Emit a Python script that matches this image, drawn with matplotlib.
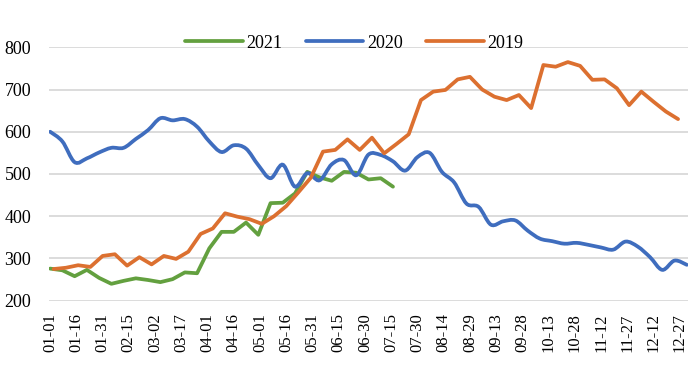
import numpy as np
import pandas as pd
import matplotlib
matplotlib.use("Agg")
import matplotlib.pyplot as plt
from matplotlib.path import Path
from matplotlib.patches import PathPatch
from matplotlib.lines import Line2D

# weekly readings, one list per year
start_2021 = "2021-01-01"
vals_2021 = [276, 272, 258, 273, 254, 240, 247, 253, 249, 244, 251, 267, 265,
             324, 363, 363, 385, 356, 431, 432, 454, 505, 492, 484, 505, 503,
             487, 490, 470]

start_2020 = "2020-01-01"
vals_2020 = [600, 577, 528, 537, 551, 562, 562, 583, 604, 632, 627, 630, 612,
             577, 552, 568, 560, 521, 490, 522, 470, 502, 485, 523, 533, 497,
             546, 545, 530, 508, 540, 550, 505, 480, 430, 422, 380, 388, 390,
             366, 347, 341, 335, 337, 332, 326, 321, 340, 328, 303, 273, 295,
             285]

start_2019 = "2019-01-03"
vals_2019 = [275, 278, 284, 280, 306, 310, 283, 303, 286, 306, 299, 316, 358,
             371, 407, 399, 393, 382, 400, 424, 457, 491, 553, 557, 582, 557,
             586, 549, 571, 594, 675, 695, 699, 724, 730, 700, 683, 675, 687,
             656, 758, 754, 765, 756, 723, 724, 703, 663, 695, 671, 648, 630]

tick_labels = pd.date_range("2019-01-01", periods=25, freq="15D").strftime("%m-%d")

c2021 = "#63A03F"
c2020 = "#3F6DBE"
c2019 = "#DC7030"


def day_of_year(start, n):
    d = pd.date_range(start, periods=n, freq="7D")
    return np.array((d - pd.Timestamp(d[0].year, 1, 1)).days, dtype=float)


def smooth_path(x, y):
    # Excel style smoothed line: cubic bezier through every point
    p = np.column_stack([x, y])
    ext = np.vstack([p[0], p, p[-1]])
    verts = [p[0]]
    codes = [Path.MOVETO]
    for i in range(len(p) - 1):
        a, b, c, d = ext[i], ext[i + 1], ext[i + 2], ext[i + 3]
        verts += [b + (c - a) / 6, c - (d - b) / 6, c]
        codes += [Path.CURVE4] * 3
    return Path(verts, codes)


plt.rcParams["font.family"] = ["Liberation Serif", "DejaVu Serif"]

fig = plt.figure(figsize=(7, 3.66), dpi=100)
ax = fig.add_axes([0.0704, 0.1784, 0.912, 0.6924])

lw = 2.7
x21 = day_of_year(start_2021, len(vals_2021))
x20 = day_of_year(start_2020, len(vals_2020))
x19 = day_of_year(start_2019, len(vals_2019))

ax.plot(x21, vals_2021, color=c2021, lw=lw, solid_joinstyle="round",
        solid_capstyle="round", zorder=3)
ax.add_patch(PathPatch(smooth_path(x20, vals_2020), facecolor="none",
                       edgecolor=c2020, lw=lw, capstyle="round", zorder=4))
ax.plot(x19, vals_2019, color=c2019, lw=lw, solid_joinstyle="round",
        solid_capstyle="round", zorder=5)

ax.set_xlim(-0.5, 364.5)
ax.set_ylim(200, 800)
ax.set_yticks(range(200, 801, 100))
ax.set_xticks(np.arange(0, 361, 15))
ax.set_xticklabels(tick_labels, rotation=90, fontsize=12)
ax.tick_params(axis="y", labelsize=13, length=0, pad=13)
ax.tick_params(axis="x", length=0, pad=9)
ax.grid(axis="y", color="#D9D9D9", lw=1.3)
ax.set_axisbelow(True)
for s in ax.spines.values():
    s.set_visible(False)

handles = [Line2D([], [], color=c, lw=lw, solid_capstyle="round")
           for c in (c2021, c2020, c2019)]
fig.legend(handles, ["2021", "2020", "2019"], loc="center", ncol=3,
           bbox_to_anchor=(0.506, 1 - 43.3 / 366), frameon=False,
           fontsize=13, handlelength=3.2, handletextpad=0.2,
           columnspacing=1.3)

fig.savefig("out.png", dpi=100)
